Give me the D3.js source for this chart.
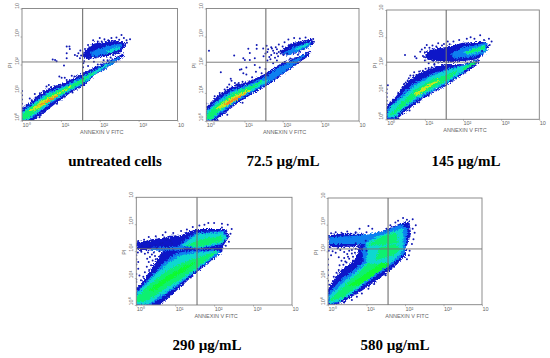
<!DOCTYPE html>
<html>
<head>
<meta charset="utf-8">
<title>Annexin V / PI flow cytometry</title>
<script src="https://d3js.org/d3.v7.min.js"></script>
<style>
  html, body { margin: 0; padding: 0; background: #fff; }
  svg { display: block; }
  .caption { font-family: "Liberation Serif", serif; font-weight: bold; font-size: 15px; fill: #000; text-anchor: middle; }
  .tinylabel { font-family: "Liberation Sans", sans-serif; font-size: 5.5px; fill: #666; }
  .marks { filter: blur(0.4px); }
</style>
</head>
<body>
<svg id="chart" width="550" height="358">
  <defs>
    <!-- roughens the contour edges so they read as a pixel density plot -->
    <filter id="grain" filterUnits="userSpaceOnUse" x="0" y="0" width="550" height="358">
      <feTurbulence type="fractalNoise" baseFrequency="0.75" numOctaves="2" seed="4" result="noise"/>
      <feDisplacementMap in="SourceGraphic" in2="noise" scale="5" xChannelSelector="R" yChannelSelector="G"/>
    </filter>
  </defs>
</svg>
<script>
// all data below is in decades: 0 means 10^0, 2 means 10^2
var captions = ["untreated cells", "72.5 µg/mL", "145 µg/mL", "290 µg/mL", "580 µg/mL"];
var tickDecades = [0, 1, 2, 3, 4];
var tickLabels = ["10⁰", "10¹", "10²", "10³", "10"];
var gateX = 1.56, gateY = 2.09;

// density contours, outermost first
var untreatedBands = [
  ["blue", [[0,0.02],[0,0.4],[0.25,0.66],[0.46,0.9],[0.68,1.12],[1.1,1.33],[1.49,1.6],[1.88,1.88],[2.3,2.15],[2.62,2.38],[2.6,2.28],[2.22,1.94],[1.88,1.66],[1.58,1.27],[1.23,1.0],[0.85,0.62],[0.46,0.2],[0.25,0]]],
  ["blue", [[1.6,2.45],[1.83,2.72],[2.39,2.85],[2.65,2.75],[2.56,2.46],[2.13,2.3],[1.66,2.22],[1.58,2.3]]],
  ["sky", [[1.8,2.45],[2.2,2.65],[2.55,2.72],[2.5,2.55],[2.1,2.38],[1.8,2.3]]],
  ["cyan", [[2.2,2.46],[2.5,2.62],[2.5,2.56],[2.2,2.42]]],
  ["sky", [[0,0.05],[0,0.3],[0.25,0.56],[0.6,0.94],[1.1,1.22],[1.5,1.5],[1.9,1.8],[2.3,2.1],[2.5,2.25],[2.3,2.02],[1.9,1.7],[1.55,1.31],[1.2,1.05],[0.8,0.7],[0.4,0.28],[0.15,0.03]]],
  ["cyan", [[0.02,0.06],[0.02,0.27],[0.28,0.55],[0.65,0.92],[1.1,1.18],[1.5,1.45],[1.9,1.77],[2.25,2.04],[1.9,1.71],[1.53,1.33],[1.18,1.06],[0.78,0.72],[0.38,0.3],[0.13,0.04]]],
  ["green", [[0.03,0.07],[0.03,0.22],[0.3,0.52],[0.7,0.9],[1.1,1.15],[1.5,1.42],[1.85,1.72],[1.52,1.35],[1.15,1.08],[0.75,0.74],[0.35,0.33],[0.12,0.07]]],
  ["yellow", [[0.22,0.36],[0.45,0.62],[0.8,0.88],[1.05,1.05],[1.25,1.2],[1.05,1.05],[0.75,0.77],[0.45,0.47]]],
  ["orange", [[0.38,0.5],[0.7,0.74],[0.92,0.88],[0.72,0.72],[0.5,0.58]]]
];
var untreatedDots = [
  [0.79,2.18],[0.85,2.16],[0.89,2.12],[1.15,2.64],[1.22,2.64],[1.23,2.55],[1.15,2.4],[1.15,2.22],[1.36,2.34],[1.45,2.4],[1.49,2.22],[1.08,1.96],
  [0.96,1.57],[1.02,1.53],[1.1,1.53],[1.15,1.45],[1.28,1.6],[1.35,1.57],[1.45,1.57],[1.58,2.05],[1.57,1.9],[1.6,1.7],[1.56,1.5],[1.7,1.95],
  [1.85,2.1],[1.95,2.0],[2.1,2.15],[2.2,2.15],[2.56,3.05],[2.69,2.87],[2.78,2.9],[2.43,2.96],[2.22,2.87],[1.83,2.87],[2.0,2.95],[2.62,2.95],
  [2.7,2.78],[2.3,2.95],[1.7,2.7],[1.62,2.55],[1.5,2.5],[1.95,2.82],[2.12,2.9],[2.48,2.42],[2.35,2.34],[1.6,2.12],[1.42,2.3],[1.72,2.2],[1.9,2.25],
  [2.05,2.82],[2.5,2.88],[2.28,2.25],[1.6,2.35],[1.75,2.6],[1.52,2.32],
  [0.69,1.27],[0.63,1.21],[0.46,0.97],[0.33,0.95],[0.2,0.79],[0.85,1.21],[0.98,1.27],[0.55,1.05],[0.4,0.85],[0.12,0.55],[0.75,1.2],[0.25,0.72],[0.35,0.82],[0.5,0.93],
  [0,0.45],[0,0.6],[0,0.75],[0,0.9],[0,1.05],[0,0.35],[0.3,0.02],[0.45,0.12],[0.9,0.6],[1.1,0.85],[1.3,1.0]
];

var dose72Bands = [
  ["blue", [[0,0],[0,0.45],[0.23,0.8],[0.66,1.2],[1.1,1.38],[1.49,1.62],[1.93,2.0],[2.45,2.29],[2.71,2.47],[2.67,2.33],[2.19,1.87],[1.58,1.28],[1.19,0.98],[0.79,0.63],[0.4,0.21],[0.23,0.01]]],
  ["blue", [[1.95,2.45],[2.2,2.72],[2.75,2.9],[2.78,2.75],[2.45,2.47],[2.1,2.35]]],
  ["sky", [[2.05,2.42],[2.3,2.6],[2.72,2.8],[2.7,2.68],[2.35,2.47],[2.1,2.36]]],
  ["cyan", [[2.35,2.56],[2.68,2.76],[2.68,2.72],[2.35,2.52]]],
  ["sky", [[0.02,0.03],[0.02,0.36],[0.25,0.66],[0.65,1.06],[1.1,1.28],[1.5,1.52],[1.95,1.93],[2.45,2.25],[2.62,2.38],[2.3,2.03],[1.9,1.63],[1.55,1.33],[1.18,1.04],[0.78,0.7],[0.38,0.3],[0.13,0.03]]],
  ["cyan", [[0.02,0.05],[0.02,0.3],[0.28,0.62],[0.7,1.02],[1.1,1.22],[1.5,1.44],[1.62,1.44],[1.2,1.1],[0.75,0.74],[0.35,0.34],[0.12,0.07]]],
  ["green", [[0.04,0.08],[0.04,0.24],[0.3,0.56],[0.7,0.97],[1.1,1.19],[1.45,1.4],[1.15,1.11],[0.75,0.77],[0.35,0.38],[0.12,0.1]]],
  ["yellow", [[0.25,0.42],[0.5,0.68],[0.85,0.94],[1.15,1.1],[0.85,0.83],[0.5,0.53]]],
  ["orange", [[0.48,0.6],[0.75,0.79],[1.0,0.95],[0.72,0.74],[0.55,0.6]]]
];
var dose72Dots = [
  [0.07,2.5],[0.38,1.73],[0.73,2.33],[1.1,2.57],[1.14,2.42],[1.32,2.7],[1.32,2.57],[1.49,2.58],[0.97,2.23],[1.01,2.17],[1.27,2.23],[1.14,2.17],
  [1.27,1.99],[1.05,1.9],[0.92,1.84],[0.97,1.7],[0.88,1.82],[0.64,1.5],[0.66,1.43],[0.75,1.35],[0.79,1.29],[1.05,1.65],[1.2,1.56],[1.3,1.75],
  [1.45,1.7],[1.55,1.85],[1.62,1.62],[1.4,1.9],[1.6,2.15],[1.75,2.05],[1.85,2.15],[1.5,2.3],[1.6,2.45],[1.7,2.62],[1.85,2.55],[1.7,2.35],[1.58,2.68],
  [1.9,2.72],[2.05,2.8],[2.0,2.65],[2.15,2.9],[2.3,2.95],[2.45,2.93],[2.6,2.97],[2.8,2.92],[2.82,2.82],[2.1,2.6],[1.95,2.4],[1.8,2.25],[2.05,2.1],
  [2.2,2.22],[2.4,2.36],[1.78,2.42],[2.2,2.68],[1.65,2.28],[1.75,2.5],[1.62,2.55],[1.88,2.3],[1.95,2.5],[1.68,2.2],[1.82,2.62],[1.9,2.45],[2.02,2.35],[1.55,2.4],[2.12,2.4],[2.05,2.55],[1.72,2.58],[1.85,2.4],
  [0.6,1.3],[0.48,1.12],[0.35,1.0],[0.22,0.88],[0.12,0.62],[0,0.5],[0,0.62],[0.95,1.4],[0.85,1.35],[0.55,1.2],[0.42,0.98],[0.3,0.02],[0.55,0.22],[0.95,0.65]
];

var dose145Bands = [
  ["blue", [[0,0],[0,0.46],[0.26,0.83],[0.52,1.32],[0.87,1.68],[1.31,1.93],[1.57,2.0],[2.0,1.99],[2.4,2.17],[2.38,2.05],[2.01,1.68],[1.57,1.28],[1.22,1.01],[0.87,0.71],[0.44,0.26],[0.26,0.01]]],
  ["blue", [[1.02,2.38],[1.14,2.55],[1.57,2.62],[2.0,2.78],[2.6,2.82],[2.66,2.66],[2.4,2.23],[2.05,2.16],[1.66,2.1],[1.31,2.14],[1.05,2.22]]],
  ["sky", [[0,0.05],[0.05,0.38],[0.4,0.88],[0.72,1.3],[1.2,1.64],[1.6,1.84],[2.0,1.95],[2.36,2.13],[2.0,1.74],[1.57,1.33],[1.2,1.05],[0.83,0.76],[0.42,0.38],[0.18,0.06]]],
  ["cyan", [[0.05,0.1],[0.1,0.42],[0.45,0.82],[0.75,1.22],[1.2,1.58],[1.6,1.78],[2.0,1.93],[2.33,2.1],[2.0,1.78],[1.57,1.38],[1.2,1.1],[0.8,0.82],[0.45,0.45],[0.2,0.1]]],
  ["green", [[0.12,0.17],[0.45,0.66],[0.75,1.05],[1.2,1.44],[1.6,1.62],[1.85,1.75],[1.55,1.42],[1.2,1.18],[0.8,0.87],[0.45,0.52],[0.2,0.2]]],
  ["green", [[2.0,1.85],[2.3,2.1],[2.32,2.06],[2.05,1.82]]],
  ["yellow", [[0.72,0.92],[1.05,1.22],[1.35,1.42],[1.1,1.18],[0.78,0.88]]],
  ["sky", [[1.7,2.4],[2.0,2.6],[2.62,2.78],[2.6,2.45],[2.2,2.3],[1.8,2.25]]],
  ["cyan", [[2.05,2.46],[2.55,2.7],[2.58,2.55],[2.15,2.38]]],
  ["green", [[2.1,2.46],[2.55,2.66],[2.55,2.6],[2.1,2.42]]]
];
var dose145Dots = [
  [0.48,2.35],[0.74,2.3],[0.78,2.23],[0.92,2.55],[1.0,2.62],[0.88,2.47],[0.95,2.32],[1.05,2.72],[1.2,2.7],[1.35,2.78],[1.5,2.76],[1.75,2.85],[1.9,2.9],
  [2.1,2.95],[2.2,3.0],[2.3,2.95],[2.45,3.08],[2.55,2.9],[2.7,2.72],[2.75,2.85],[2.68,2.95],[1.6,2.85],[1.0,2.15],[1.1,2.05],[1.25,2.02],[1.45,1.98],
  [0.7,1.6],[0.72,1.72],[0.62,1.6],[0.95,1.78],[1.1,1.88],[0.85,1.75],[0.45,1.28],[0.5,1.35],[0.55,1.42],[0.38,1.08],[0.3,0.95],[0.42,1.18],[1.25,2.0],[1.5,2.12],
  [0,0.55],[0,0.68],[0,0.82],[0,0.95],[0,1.1],[0.03,1.25],[0.1,0.62],[0.18,0.72],[0.6,0.32],[0.3,0.04],[0.85,0.62],[1.1,0.86],[1.7,1.95],[2.25,2.2],[2.5,2.5],
  [1.12,2.62],[1.3,2.66],[1.45,2.7],[1.65,2.75],[1.0,2.45],[0.98,2.28],[1.2,2.15],[1.35,2.08],[0.78,1.62],[1.02,1.85],[1.18,1.9],[0.58,1.5]
];

var dose290Bands = [
  ["blue", [[0,0],[0,0.62],[0.2,0.9],[0.45,1.45],[0.62,1.85],[0.72,2.05],[0.85,2.55],[1.1,2.55],[1.55,2.8],[2.3,2.8],[2.37,2.54],[2.23,2.23],[2.19,1.98],[1.55,1.24],[1.12,0.68],[0.69,0.12],[0.52,0]]],
  ["blue", [[0.02,2.08],[0.02,2.3],[0.4,2.42],[0.9,2.5],[0.9,2.1],[0.4,2.05]]],
  ["sky", [[0,0.03],[0,0.45],[0.4,1.05],[0.75,1.6],[1.05,1.92],[1.5,2.0],[2.1,2.02],[2.15,1.95],[1.55,1.32],[1.1,0.78],[0.65,0.3],[0.35,0.02]]],
  ["sky", [[1.1,2.18],[1.3,2.42],[1.55,2.68],[2.25,2.72],[2.32,2.5],[2.15,2.25],[1.6,2.12]]],
  ["cyan", [[0,0.05],[0,0.35],[0.35,0.9],[0.75,1.45],[1.1,1.8],[1.5,1.93],[2.08,1.98],[1.55,1.35],[1.1,0.85],[0.65,0.4],[0.3,0.05]]],
  ["cyan", [[1.2,2.22],[1.55,2.6],[2.2,2.68],[2.3,2.5],[2.15,2.3],[1.6,2.15]]],
  ["sky", [[0.4,2.1],[1.0,2.14],[1.2,2.15],[1.2,2.07],[1.0,2.05],[0.4,2.04]]],
  ["green", [[0.02,0.12],[0.02,0.28],[0.4,0.8],[0.8,1.25],[1.2,1.55],[1.6,1.75],[2.05,1.97],[1.55,1.4],[1.15,1.0],[0.7,0.6],[0.3,0.2]]],
  ["green", [[1.3,2.2],[1.6,2.4],[2.2,2.55],[2.2,2.4],[1.7,2.2]]],
  ["lime", [[0.35,0.55],[0.8,1.05],[1.2,1.38],[1.5,1.58],[1.2,1.25],[0.8,0.9],[0.45,0.55]]]
];
var dose290Dots = [
  [0.05,2.38],[0.2,2.42],[0.32,2.53],[0.5,2.55],[0.68,2.6],[0.75,2.7],[0.95,2.67],[1.15,2.75],[1.3,2.8],[1.45,2.9],[1.62,2.95],[1.75,2.98],[1.85,3.05],[2.0,3.05],
  [2.2,3.02],[2.35,2.98],[2.45,2.82],[2.42,2.65],[2.38,2.35],[2.3,2.2],[2.2,2.88],
  [0.04,1.95],[0.13,1.98],[0.22,1.9],[0.3,1.95],[0.12,2.02],[0,1.85],[0,1.7],[0,1.5],[0.05,1.6],[0.05,1.35],[0,1.15],[0.08,1.1],[0,0.95],[0,0.85],
  [0.22,1.22],[0.27,1.42],[0.32,1.6],[0.35,1.78],[0.4,1.88],[0.28,1.72],[0.48,1.82],[0.38,1.48],[0.33,1.3],[0.18,1.05],[0.12,0.92],[0.42,1.65],[0.5,1.7],[0.45,1.95],
  [0.6,2.0],[0.65,1.85],[0.55,1.6],[0.68,2.3],[0.78,2.42],[0.88,2.38],[0.75,2.2],[0.62,2.28],[0.5,2.22],[0.35,2.2],
  [0.55,0.02],[0.7,0.18],[0.85,0.35],[0.98,0.52],[1.2,0.75],[1.4,1.02],[1.7,1.45],[1.95,1.7],
  [0.15,2.2],[0.25,2.32],[0.4,2.38],[0.58,2.45],[0.72,2.5],[1.0,2.55],[0.3,2.12],[0.52,2.12],[0.82,2.15],[0.92,2.28]
];

var dose580Bands = [
  ["blue", [[0,0],[0,0.55],[0.1,0.8],[0.36,1.3],[0.62,1.55],[0.75,1.8],[0.8,2.05],[0.85,2.3],[1.0,2.55],[1.58,2.82],[1.84,3.0],[2.1,3.1],[2.14,2.67],[2.01,2.11],[2.01,1.86],[1.7,1.42],[1.32,0.99],[0.88,0.55],[0.45,0.18],[0.19,0]]],
  ["blue", [[0.04,2.18],[0.02,2.58],[0.36,2.64],[0.9,2.64],[1.0,2.3],[0.6,2.2]]],
  ["sky", [[0.05,2.3],[0.05,2.5],[0.6,2.55],[1.0,2.6],[1.0,2.3],[0.6,2.3]]],
  ["sky", [[0.02,0.05],[0.02,0.42],[0.4,0.98],[0.7,1.3],[0.95,1.65],[0.9,2.05],[1.0,2.3],[1.0,2.6],[1.6,2.8],[1.9,2.98],[2.05,2.85],[2.0,2.2],[1.95,1.9],[1.6,1.47],[1.2,1.07],[0.8,0.63],[0.35,0.2],[0.12,0.03]]],
  ["cyan", [[0.04,0.08],[0.04,0.3],[0.4,0.8],[0.7,1.15],[1.0,1.55],[1.05,2.05],[1.0,2.3],[1.3,2.55],[1.75,2.75],[1.93,2.85],[1.95,2.25],[1.9,1.95],[1.55,1.5],[1.15,1.1],[0.7,0.55],[0.3,0.15]]],
  ["green", [[0.05,0.15],[0.4,0.65],[0.75,1.1],[1.05,1.55],[1.2,1.5],[1.55,1.55],[1.2,1.2],[0.8,0.75],[0.35,0.28]]],
  ["green", [[1.05,2.25],[1.35,2.5],[1.75,2.68],[1.8,2.35],[1.4,2.25]]],
  ["green", [[1.25,1.7],[1.75,1.9],[1.85,2.1],[1.75,2.25],[1.35,2.12]]],
  ["lime", [[0.55,0.72],[1.0,1.15],[1.4,1.55],[1.6,1.52],[1.2,1.15],[0.8,0.75]]]
];
var dose580Dots = [
  [0.08,2.68],[0.2,2.72],[0.35,2.7],[0.5,2.74],[0.72,2.72],[1.0,2.72],[1.15,2.85],[0.82,2.85],[1.05,2.95],[1.52,2.85],[1.62,2.98],[1.75,3.08],[1.82,3.15],[1.95,3.25],
  [2.05,3.18],[2.2,3.2],[2.28,2.98],[2.2,2.85],[2.25,2.7],[2.22,2.45],[2.18,2.28],[2.12,2.02],[2.1,1.85],[2.05,1.7],
  [0.02,2.02],[0.12,2.0],[0.2,1.95],[0.32,2.05],[0.42,1.98],[0.5,1.9],[0.08,1.85],[0,1.7],[0,1.5],[0,1.3],[0,1.1],[0,0.9],[0.03,0.75],
  [0.28,1.78],[0.35,1.65],[0.42,1.75],[0.48,1.58],[0.55,1.72],[0.62,1.92],[0.55,2.02],[0.4,1.5],[0.3,1.48],[0.22,1.2],[0.15,1.05],[0.28,1.3],[0.65,1.65],[0.7,1.95],
  [0.62,0.18],[0.75,0.3],[0.88,0.42],[1.05,0.6],[1.2,0.78],[1.5,1.1],[0.42,0.08],[0.98,2.4],[0.72,2.3],[1.0,2.02],
  [0.62,2.05],[0.72,2.1],[0.52,1.8],[0.65,1.8],[0.45,1.62],[0.78,2.18],[0.25,2.12],[0.05,2.15],[0.42,2.15]
];

var seriesBands = [untreatedBands, dose72Bands, dose145Bands, dose290Bands, dose580Bands];
var seriesDots = [untreatedDots, dose72Dots, dose145Dots, dose290Dots, dose580Dots];

// page layout, pixels
var panelBoxes = [
  { left: 22, right: 177.5, top: 8.5, bottom: 120.5, capX: 115, capY: 166 },
  { left: 206.3, right: 359, top: 8.5, bottom: 121, capX: 283, capY: 166 },
  { left: 386.7, right: 539.3, top: 10, bottom: 119.3, capX: 466, capY: 166 },
  { left: 136.3, right: 292, top: 197.3, bottom: 305, capX: 207, capY: 350 },
  { left: 328, right: 482, top: 198, bottom: 304.7, capX: 395, capY: 350 }
];
var bandColors = { blue: "#0c18c8", sky: "#0c80f0", cyan: "#10d8d0", green: "#0cf070", lime: "#10fa30", yellow: "#c8e820", orange: "#f58820" };
var frameColor = "#808080";

var svg = d3.select("#chart");

panelBoxes.forEach(function(box, i) {
  var x = d3.scaleLinear().domain([0, 4]).range([box.left, box.right]);
  var y = d3.scaleLinear().domain([0, 4]).range([box.bottom, box.top]);
  var line = d3.line().x(function(d) { return x(d[0]); }).y(function(d) { return y(d[1]); }).curve(d3.curveLinearClosed);

  svg.select("defs").append("clipPath").attr("id", "box" + i)
    .append("rect")
    .attr("x", box.left).attr("y", box.top)
    .attr("width", box.right - box.left).attr("height", box.bottom - box.top);

  var marks = svg.append("g").attr("class", "marks").attr("clip-path", "url(#box" + i + ")");
  marks.append("g").attr("filter", "url(#grain)")
    .selectAll("path")
    .data(seriesBands[i])
    .enter()
    .append("path")
    .attr("d", function(d) { return line(d[1]); })
    .attr("fill", function(d) { return bandColors[d[0]]; })
    .attr("stroke", function(d) { return bandColors[d[0]]; })
    .attr("stroke-width", 1.3)
    .attr("stroke-linejoin", "round");
  marks.append("g").selectAll("circle")
    .data(seriesDots[i])
    .enter()
    .append("circle")
    .attr("cx", function(d) { return x(d[0]); })
    .attr("cy", function(d) { return y(d[1]); })
    .attr("r", 1)
    .attr("fill", "#1018b4");

  // frame and quadrant gates
  svg.append("rect")
    .attr("x", box.left).attr("y", box.top)
    .attr("width", box.right - box.left).attr("height", box.bottom - box.top)
    .attr("fill", "none").attr("stroke", frameColor).attr("stroke-width", 0.9);
  svg.append("line")
    .attr("x1", x(gateX)).attr("x2", x(gateX)).attr("y1", y(0)).attr("y2", y(4))
    .attr("stroke", "#707070").attr("stroke-width", 1.1);
  svg.append("line")
    .attr("x1", x(0)).attr("x2", x(4)).attr("y1", y(gateY)).attr("y2", y(gateY))
    .attr("stroke", "#707070").attr("stroke-width", 0.9);

  // axes, labels are typed 10^n
  var xAxis = d3.axisBottom(x).tickValues(tickDecades).tickSize(1.5).tickFormat(function(d, k) { return tickLabels[k]; });
  var yAxis = d3.axisLeft(y).tickValues(tickDecades).tickSize(1.5).tickFormat(function(d, k) { return tickLabels[k]; });
  var gx = svg.append("g").attr("transform", "translate(0," + box.bottom + ")").call(xAxis);
  var gy = svg.append("g").attr("transform", "translate(" + box.left + ",0)").call(yAxis);
  gx.select(".domain").remove();
  gy.select(".domain").remove();
  gx.selectAll("line").attr("stroke", "#777").attr("stroke-width", 0.5);
  gy.selectAll("line").attr("stroke", "#777").attr("stroke-width", 0.5);
  gx.selectAll("text").attr("class", "tinylabel").attr("y", 6).attr("dy", 0)
    .attr("x", 0).style("text-anchor", "start");
  gy.selectAll("text").attr("class", "tinylabel")
    .attr("dy", 0).attr("x", 0).attr("y", -3.5)
    .attr("transform", "rotate(-90)")
    .style("text-anchor", "start");

  svg.append("text").attr("class", "tinylabel")
    .attr("x", (box.left + box.right) / 2 + 2).attr("y", box.bottom + 13)
    .attr("text-anchor", "middle").text("ANNEXIN V FITC");
  svg.append("text").attr("class", "tinylabel")
    .attr("transform", "translate(" + (box.left - 10) + "," + ((box.top + box.bottom) / 2 + 1) + ") rotate(-90)")
    .attr("text-anchor", "middle").text("PI");

  svg.append("text").attr("class", "caption")
    .attr("x", box.capX).attr("y", box.capY).text(captions[i]);
});
</script>
</body>
</html>
